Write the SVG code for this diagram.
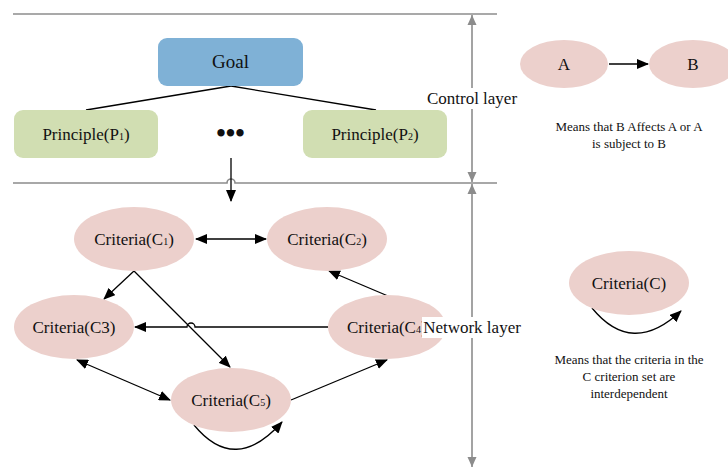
<svg xmlns="http://www.w3.org/2000/svg" width="728" height="469" viewBox="0 0 728 469">
<style>
text{font-family:"Liberation Serif","Times New Roman",serif;fill:#111;text-anchor:middle}
.lbl{font-size:17px}
.sub{font-size:10px}
.small{font-size:13px}
.pink{fill:#ecd0cc}
.blk{fill:none;stroke:#000;stroke-width:1.3}
.gray{fill:none;stroke:#8c8c8c;stroke-width:1.6}
</style>
<defs>
<marker id="ah" markerUnits="userSpaceOnUse" markerWidth="12" markerHeight="10" refX="11" refY="5" orient="auto-start-reverse" viewBox="0 0 12 10">
<path d="M0,0 L12,5 L0,10 z" fill="#000"/>
</marker>
<marker id="gh" markerUnits="userSpaceOnUse" markerWidth="10" markerHeight="10" refX="10" refY="5" orient="auto-start-reverse" viewBox="0 0 10 10">
<path d="M0,0.5 L10,5 L0,9.5 z" fill="#8c8c8c"/>
</marker>
</defs>

<g id="layers">
<path class="gray" d="M13,14 H497"/>
<path class="gray" d="M13,183 H227 A4,4 0 0 1 235,183 H497"/>
<path class="gray" d="M472,15 V182" marker-start="url(#gh)" marker-end="url(#gh)"/>
<path class="gray" d="M472,184 V467" marker-start="url(#gh)" marker-end="url(#gh)"/>
<rect x="426" y="88" width="92" height="21" fill="#fff"/>
<text class="lbl" x="472" y="104">Control layer</text>
</g>

<g id="connectors">
<path class="blk" d="M231,86 L86,110"/>
<path class="blk" d="M231,86 L376,110"/>
<path class="blk" d="M231,158 V201" marker-end="url(#ah)"/>
<path class="blk" d="M196,239 H266" marker-start="url(#ah)" marker-end="url(#ah)"/>
<path class="blk" d="M134,271 L104,299" marker-end="url(#ah)"/>
<path class="blk" d="M134,271 L230,367" marker-end="url(#ah)"/>
<path class="blk" d="M388,296 L329,271" marker-end="url(#ah)"/>
<path class="blk" d="M328,327 H195 A4,4 0 0 0 187,327 H135" marker-end="url(#ah)"/>
<path class="blk" d="M77,360 L170,400" marker-start="url(#ah)" marker-end="url(#ah)"/>
<path class="blk" d="M291,400 L387,360" marker-end="url(#ah)"/>
<path class="blk" d="M194,425 Q235,475 282,422" marker-end="url(#ah)"/>
<path class="blk" d="M609,64 H648" marker-end="url(#ah)"/>
<path class="blk" d="M592,308 Q632,357 681,311" marker-end="url(#ah)"/>
</g>

<g id="goal">
<rect x="158" y="38" width="145" height="48" rx="9" fill="#7fb1d6"/>
<text x="230.5" y="68" font-size="19">Goal</text>
</g>
<g id="principle1">
<rect x="14" y="110" width="144" height="48" rx="9" fill="#d1deb2"/>
<text class="lbl" x="86" y="140">Principle(P<tspan class="sub">1</tspan>)</text>
</g>
<g id="dots">
<text x="230.5" y="142" font-size="27" font-weight="bold">•••</text>
</g>
<g id="principle2">
<rect x="303" y="110" width="144" height="48" rx="9" fill="#d1deb2"/>
<text class="lbl" x="375" y="140">Principle(P<tspan class="sub">2</tspan>)</text>
</g>

<g id="c1">
<ellipse class="pink" cx="134" cy="239" rx="60" ry="32"/>
<text class="lbl" x="134" y="245">Criteria(C<tspan class="sub">1</tspan>)</text>
</g>
<g id="c2">
<ellipse class="pink" cx="327" cy="239" rx="60" ry="32"/>
<text class="lbl" x="327" y="245">Criteria(C<tspan class="sub">2</tspan>)</text>
</g>
<g id="c3">
<ellipse class="pink" cx="74" cy="327" rx="60" ry="32"/>
<text class="lbl" x="74" y="333">Criteria(C3)</text>
</g>
<g id="c4">
<ellipse class="pink" cx="387" cy="327" rx="59" ry="32"/>
<text class="lbl" x="347" y="333" style="text-anchor:start">Criteria(C<tspan class="sub">4</tspan>)</text>
</g>
<g id="c5">
<ellipse class="pink" cx="231" cy="400" rx="60" ry="32"/>
<text class="lbl" x="231" y="406">Criteria(C<tspan class="sub">5</tspan>)</text>
</g>

<g id="network-label">
<rect x="422" y="317" width="99" height="21" fill="#fff"/>
<text class="lbl" x="472" y="333">Network layer</text>
</g>

<g id="legend-a">
<ellipse class="pink" cx="564" cy="64" rx="44" ry="24"/>
<text class="lbl" x="564" y="70">A</text>
</g>
<g id="legend-b">
<ellipse class="pink" cx="693" cy="64" rx="44" ry="24"/>
<text class="lbl" x="693" y="70">B</text>
</g>
<g id="legend-text1">
<text class="small" x="629" y="131">Means that B Affects A or A</text>
<text class="small" x="629" y="148">is subject to B</text>
</g>
<g id="legend-c">
<ellipse class="pink" cx="629" cy="283" rx="60" ry="32"/>
<text class="lbl" x="629" y="289">Criteria(C)</text>
</g>
<g id="legend-text2">
<text class="small" x="629" y="364">Means that the criteria in the</text>
<text class="small" x="629" y="381">C criterion set are</text>
<text class="small" x="629" y="398">interdependent</text>
</g>
</svg>
